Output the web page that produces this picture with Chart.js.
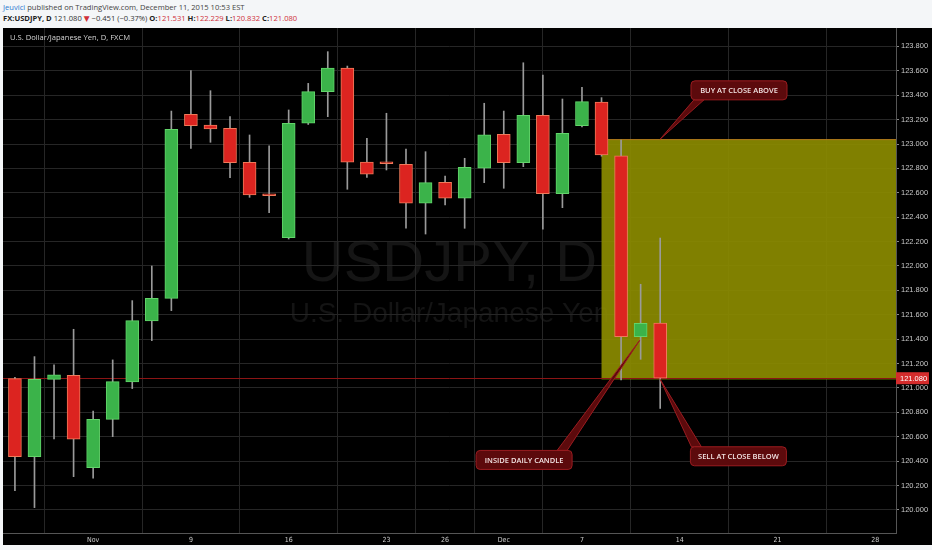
<!DOCTYPE html>
<html lang="en">
<head>
<meta charset="UTF-8">
<title>USDJPY, D</title>
<script src="https://cdn.jsdelivr.net/npm/chart.js@4.4.1/dist/chart.umd.min.js"></script>
<style>
    body { margin: 0; background: #f4f6f8; width: 932px; height: 550px; overflow: hidden; position: relative; font-family: "Open Sans", "DejaVu Sans", sans-serif; }
    .hdr1 { position: absolute; left: 3px; top: 2px; font-size: 7.6px; color: #444; white-space: nowrap; }
    .hdr1 .who { color: #2c7bd0; }
    .hdr2 { position: absolute; left: 3px; top: 13px; font-size: 7.6px; color: #333; white-space: nowrap; }
    .hdr2 b { color: #222; }
    .hdr2 .r { color: #d0303a; }
    .panel { position: absolute; left: 3px; top: 28px; width: 929px; height: 517px; background: #000; }
    .titulo { position: absolute; left: 10px; top: 32px; font-size: 7.6px; color: #d4d4d4; white-space: nowrap; }
    #grafico { position: absolute; left: 0; top: 0; }
</style>
</head>
<body>
<div class="hdr1"><span class="who">Jeuvici</span> published on TradingView.com, December 11, 2015 10:53 EST</div>
<div class="hdr2"><b>FX:USDJPY, D</b> 121.080 <span class="r">&#9660;</span> &minus;0.451 (&minus;0.37%) <b>O:</b><span class="r">121.531</span> <b>H:</b><span class="r">122.229</span> <b>L:</b><span class="r">120.832</span> <b>C:</b><span class="r">121.080</span></div>
<div class="panel"><canvas id="grafico" width="929" height="517"></canvas></div>
<div class="titulo">U.S. Dollar/Japanese Yen, D, FXCM</div>

<script>
// candles, Oct 27 .. Dec 11 2015 (trading day index 0..33)
var opens  = [121.076, 120.437, 121.071, 121.104, 120.347, 120.743, 121.049, 121.549, 121.735, 123.243,
              123.156, 123.129, 122.850, 122.585, 122.232, 123.170, 123.429, 123.623, 122.852, 122.852,
              122.834, 122.514, 122.686, 122.555, 122.801, 123.080, 122.847, 123.235, 122.593, 123.150,
              123.344, 122.904, 121.420, 121.531];
var highs  = [121.088, 121.257, 121.189, 121.481, 120.811, 121.230, 121.716, 122.000, 123.270, 123.601,
              123.437, 123.224, 123.074, 122.986, 123.279, 123.497, 123.757, 123.639, 123.047, 123.252,
              122.959, 122.937, 122.738, 122.883, 123.334, 123.270, 123.666, 123.566, 123.369, 123.465,
              123.380, 123.033, 121.850, 122.229];
var lows   = [120.158, 120.019, 120.582, 120.273, 120.260, 120.601, 120.995, 121.388, 121.634, 122.964,
              123.014, 122.724, 122.563, 122.437, 122.221, 123.160, 123.224, 122.629, 122.727, 122.787,
              122.309, 122.262, 122.500, 122.309, 122.683, 122.637, 122.814, 122.301, 122.478, 123.140,
              122.900, 121.066, 121.235, 120.832];
var closes = [120.437, 121.071, 121.107, 120.580, 120.743, 121.052, 121.552, 121.735, 123.121, 123.150,
              123.123, 122.847, 122.582, 122.576, 123.170, 123.429, 123.623, 122.852, 122.752, 122.838,
              122.514, 122.683, 122.555, 122.809, 123.076, 122.847, 123.235, 122.593, 123.088, 123.347,
              122.910, 121.420, 121.530, 121.080];

// eixo x (indice de dia util) e eixo de precos
var tickIdx    = [4, 9, 14, 19, 22, 25, 29, 34, 39, 44];
var tickLabels = ['Nov', '9', '16', '23', '26', 'Dec', '7', '14', '21', '28'];
var priceTicks = [120.0, 120.2, 120.4, 120.6, 120.8, 121.0, 121.2, 121.4, 121.6, 121.8,
                  122.0, 122.2, 122.4, 122.6, 122.8, 123.0, 123.2, 123.4, 123.6, 123.8];

// caixa amarela (maxima/minima do candle mae) e ultimo preco
var boxStart = 30;
var boxHigh = 123.04;
var boxLow = 121.07;
var lastPrice = 121.080;

// notas: centro em (indice, preco), ponta em (indice, preco)
var notes = [
    { text: 'BUY AT CLOSE ABOVE',  x: 37.03, y: 123.44, tipX: 33.0, tipY: 123.04, edge: 'bottom', base: -40 },
    { text: 'INSIDE DAILY CANDLE', x: 26.04, y: 120.41, tipX: 31.95, tipY: 121.39, edge: 'top',    base: 38 },
    { text: 'SELL AT CLOSE BELOW', x: 37.0,  y: 120.44, tipX: 33.0,  tipY: 121.07, edge: 'top',    base: -42 }
];

var up = [];
for (var i = 0; i < opens.length; i++) up.push(closes[i] >= opens[i]);

var corpos = opens.map(function (o, i) { return { x: i, y: [o, closes[i]] }; });
var pavios = lows.map(function (l, i) { return { x: i, y: [l, highs[i]] }; });

var overlay = {
    id: 'overlay',
    beforeDraw: function (chart) {
        var ctx = chart.ctx, a = chart.chartArea;
        var cx = (a.left + a.right) / 2;
        ctx.save();
        ctx.textAlign = 'center';
        ctx.textBaseline = 'alphabetic';
        ctx.fillStyle = '#151515';
        ctx.font = '58px "Liberation Sans", Arial, sans-serif';
        ctx.fillText('USDJPY, D', cx, 253);
        ctx.font = '28px "Liberation Sans", Arial, sans-serif';
        ctx.fillStyle = '#141414';
        ctx.fillText('U.S. Dollar/Japanese Yen', cx, 294);
        ctx.restore();
    },
    beforeDatasetsDraw: function (chart) {
        var ctx = chart.ctx, a = chart.chartArea;
        var xs = chart.scales.x, ys = chart.scales.y;
        var x0 = xs.getPixelForValue(boxStart);
        var y0 = ys.getPixelForValue(boxHigh);
        var y1 = ys.getPixelForValue(boxLow);
        ctx.save();
        ctx.fillStyle = 'rgba(142,142,0,0.9)';
        ctx.fillRect(x0, y0, a.right - x0, y1 - y0);
        ctx.strokeStyle = 'rgba(200,120,40,0.7)';
        ctx.lineWidth = 1;
        ctx.beginPath();
        ctx.moveTo(x0, y0 + 0.5);
        ctx.lineTo(a.right, y0 + 0.5);
        ctx.stroke();
        var yl = Math.round(ys.getPixelForValue(lastPrice)) + 0.5;
        ctx.strokeStyle = '#8b1515';
        ctx.beginPath();
        ctx.moveTo(a.left, yl);
        ctx.lineTo(a.right, yl);
        ctx.stroke();
        ctx.restore();
    },
    afterDraw: function (chart) {
        var ctx = chart.ctx, a = chart.chartArea;
        var xs = chart.scales.x, ys = chart.scales.y;
        ctx.save();
        notes.forEach(function (n) {
            var cx = xs.getPixelForValue(n.x), cy = ys.getPixelForValue(n.y);
            var tx = xs.getPixelForValue(n.tipX), ty = ys.getPixelForValue(n.tipY);
            var w = 96, h = 19;
            var ey = n.edge === 'top' ? cy - h / 2 : cy + h / 2;
            var bx = cx + n.base;
            // cauda
            ctx.beginPath();
            ctx.moveTo(bx - 5, ey);
            ctx.lineTo(tx, ty);
            ctx.lineTo(bx + 5, ey);
            ctx.closePath();
            ctx.fillStyle = '#5c0a0c';
            ctx.fill();
            ctx.strokeStyle = '#9a1c20';
            ctx.lineWidth = 1;
            ctx.stroke();
            // caixa
            var r = 4, l = cx - w / 2, t = cy - h / 2;
            ctx.beginPath();
            ctx.moveTo(l + r, t);
            ctx.arcTo(l + w, t, l + w, t + h, r);
            ctx.arcTo(l + w, t + h, l, t + h, r);
            ctx.arcTo(l, t + h, l, t, r);
            ctx.arcTo(l, t, l + w, t, r);
            ctx.closePath();
            ctx.fillStyle = '#5c0a0c';
            ctx.fill();
            ctx.stroke();
            ctx.fillStyle = '#f3e4e4';
            ctx.font = '600 7.5px "Open Sans", sans-serif';
            ctx.textAlign = 'center';
            ctx.textBaseline = 'middle';
            ctx.fillText(n.text, cx, cy + 0.5);
        });
        // etiqueta do ultimo preco
        var yl = ys.getPixelForValue(lastPrice);
        ctx.fillStyle = '#d42c2c';
        ctx.fillRect(a.right, yl - 6, 33, 12);
        ctx.fillStyle = '#ffffff';
        ctx.font = '7.5px "Liberation Sans", Arial, sans-serif';
        ctx.textAlign = 'left';
        ctx.textBaseline = 'middle';
        ctx.fillText(lastPrice.toFixed(3), a.right + 4, yl + 0.5);
        ctx.restore();
    }
};

var ctx = document.getElementById('grafico').getContext('2d');

new Chart(ctx, {
    type: 'bar',
    data: {
        datasets: [
            {
                label: 'corpo',
                data: corpos,
                order: 0,
                grouped: false,
                barThickness: 13,
                minBarLength: 2,
                backgroundColor: up.map(function (u) { return u ? '#3bb34a' : '#dc2420'; }),
                borderColor: up.map(function (u) { return u ? '#62d46a' : '#f07a5a'; }),
                borderWidth: 1,
                borderSkipped: false
            },
            {
                label: 'pavio',
                data: pavios,
                order: 1,
                grouped: false,
                barThickness: 1,
                backgroundColor: '#9a9a9a',
                borderWidth: 0
            }
        ]
    },
    options: {
        responsive: false,
        animation: false,
        events: [],
        layout: { padding: 0 },
        plugins: { legend: { display: false }, tooltip: { enabled: false } },
        scales: {
            x: {
                type: 'linear',
                min: -0.61,
                max: 45.06,
                offset: false,
                afterBuildTicks: function (s) { s.ticks = tickIdx.map(function (v) { return { value: v }; }); },
                afterFit: function (s) { s.height = 12; s.paddingLeft = 0; s.paddingRight = 0; },
                grid: { color: '#262626', drawTicks: false },
                border: { color: '#555555' },
                ticks: {
                    padding: 3,
                    maxRotation: 0,
                    autoSkip: false,
                    color: '#cccccc',
                    font: { family: '"Liberation Sans Narrow", "DejaVu Sans Condensed", sans-serif', size: 7 },
                    callback: function (v) { var k = tickIdx.indexOf(v); return k < 0 ? '' : tickLabels[k]; }
                }
            },
            y: {
                position: 'right',
                min: 119.811,
                max: 123.951,
                afterBuildTicks: function (s) { s.ticks = priceTicks.map(function (v) { return { value: v }; }); },
                afterFit: function (s) { s.width = 36; s.paddingTop = 0; s.paddingBottom = 0; },
                grid: { color: '#262626', tickColor: '#888888', tickLength: 3 },
                border: { color: '#555555' },
                ticks: {
                    padding: 2,
                    color: '#c8c8c8',
                    font: { family: '"Liberation Sans", Arial, sans-serif', size: 7.5 },
                    callback: function (v) { return Number(v).toFixed(3); }
                }
            }
        }
    },
    plugins: [overlay]
});
</script>
</body>
</html>
